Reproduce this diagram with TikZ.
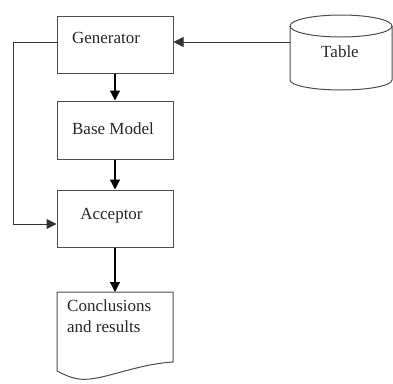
\documentclass[tikz,border=0pt]{standalone}
\usepackage{fontspec}
\setmainfont{Liberation Serif}
\usetikzlibrary{arrows.meta}
\begin{document}
\begin{tikzpicture}[x=1pt,y=-1pt,
  box/.style={draw=black!70,line width=1pt,minimum width=116pt,minimum height=57pt,inner sep=0pt},
  txt/.style={font=\fontsize{17}{21}\selectfont,text=black!85,inner sep=0pt},
  flow/.style={line width=1.2pt,-{Triangle[length=10pt,width=10pt]}},
  feed/.style={draw=black!80,line width=1pt,-{Triangle[length=10pt,width=10pt]}}]
\useasboundingbox (0,0) rectangle (393,383);

% process boxes
\node[box] (gen) at (115,44.5) {};
\node[box,minimum height=58pt] (base) at (115,130) {};
\node[box] (acc) at (115,218.5) {};
\node[txt] (gent) at (106,38) {Generator};
\node[txt] (baset) at (113,129) {Base Model};
\node[txt] (acct) at (111.5,216) {Acceptor};

% data store (cylinder)
\coordinate (tl) at (290,26);
\coordinate (tr) at (392,26);
\coordinate (bl) at (290,80);
\coordinate (br) at (392,80);
\draw[draw=black!70,line width=1pt] (341,26) ellipse [x radius=51, y radius=11];
\draw[draw=black!70,line width=1pt] (tl) -- (bl) arc[start angle=180,end angle=360,x radius=51,y radius=-10] -- (tr);
\node[txt] (tab) at (340,52) {Table};

% output document with wavy bottom
\coordinate (d1) at (57,292);
\coordinate (d2) at (173,292);
\draw[draw=black!70,line width=1pt] (d2) -- (d1) -- (57,371)
  .. controls (72,379) and (80,380) .. (90,379)
  .. controls (110,377) and (140,364) .. (173,362) -- cycle;
\coordinate (doctop) at (115,292);
\node[txt,align=left,anchor=north west] (doct) at (67,299) {Conclusions\\and results};

% connectors
\draw[flow] (gen.south) -- (base.north);
\draw[flow] (base.south) -- (acc.north);
\draw[flow] (acc.south) -- (doctop);
\coordinate (tabin) at (290,42);
\draw[feed] (tabin) -- (gen.east |- tabin);
\coordinate (genout) at (57,42);
\coordinate (c1) at (13,42);
\coordinate (c2) at (13,224);
\draw[feed] (genout) -- (c1) -- (c2) -- (acc.west |- c2);
\end{tikzpicture}
\end{document}
